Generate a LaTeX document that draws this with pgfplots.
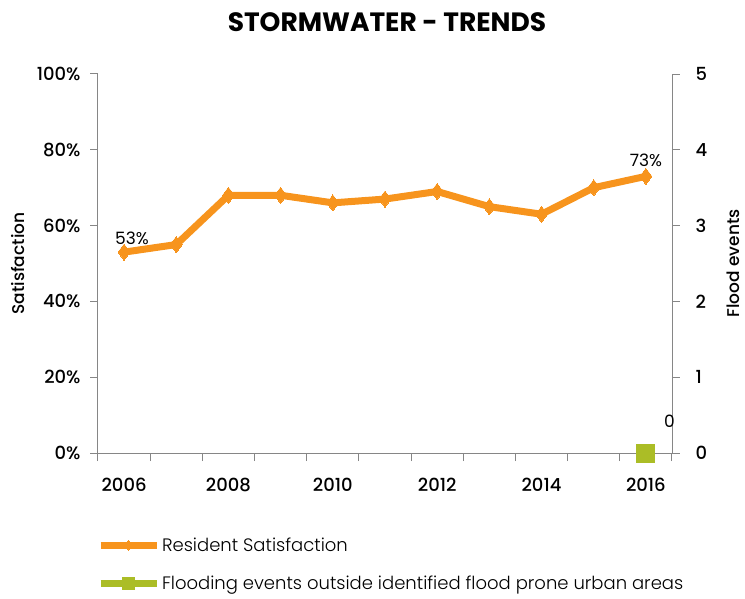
\documentclass[border=0pt]{standalone}
\usepackage{pgfplots}
\pgfplotsset{compat=1.18}
\usepackage{fontspec}
\setmainfont{Poppins}
\newfontfamily\pmed{Poppins}[UprightFont=* Medium]
\newfontfamily\plight{Poppins}[UprightFont=* Light]
\newfontfamily\pbold{Poppins}[UprightFont=* Bold]
\definecolor{orng}{HTML}{F7941D}
\definecolor{grn}{HTML}{ABBD26}
\definecolor{axgray}{HTML}{868686}
\pgfplotstableread{
year sat
2006 53
2007 55
2008 68
2009 68
2010 66
2011 67
2012 69
2013 65
2014 63
2015 70
2016 73
}\sat
\pgfplotstableread{
year flood
2016 0
}\flood
\begin{document}
\begin{tikzpicture}
\useasboundingbox (0pt,0pt) rectangle (745pt,598pt);
\node[font=\pbold\fontsize{26.5}{31}\selectfont] at (387pt,576pt) {STORMWATER - TRENDS};
\begin{axis}[
  at={(98pt,145pt)}, anchor=south west,
  scale only axis, width=574pt, height=379pt,
  xmin=2005.5, xmax=2016.5, ymin=0, ymax=100,
  axis x line*=bottom, axis y line*=left,
  axis line style={axgray, line width=1pt},
  every tick/.style={axgray, line width=1pt},
  xtick={2006,2008,...,2016},
  xticklabel style={/pgf/number format/1000 sep=},
  major x tick style={draw=none},
  minor xtick={2005.5,2006.5,...,2016.5},
  minor tick length=8pt,
  ytick={0,20,...,100},
  major tick length=8pt,
  tick align=outside,
  yticklabel={\pgfmathprintnumber{\tick}\%},
  /pgf/number format/assume math mode=true,
  tick label style={font=\pmed\fontsize{18}{21}\selectfont, black},
  xticklabel style={yshift=-14pt},
  yticklabel style={xshift=-6pt},
  ylabel={Satisfaction},
  ylabel style={font=\pmed\fontsize{17}{20}\selectfont, at={(axis description cs:-0.139,0.5)}, anchor=center},
  clip=false,
]
\addplot[orng, line width=7pt, mark=diamond*, mark size=8pt, mark options={fill=orng, line width=0pt}] table[x=year, y=sat] {\sat};
\node[font=\fontsize{17}{20}\selectfont, anchor=south] at (axis cs:2006.15,54) {53\%};
\node[font=\fontsize{17}{20}\selectfont, anchor=south] at (axis cs:2016,74.5) {73\%};
\end{axis}
\begin{axis}[
  at={(98pt,145pt)}, anchor=south west,
  scale only axis, width=574pt, height=379pt,
  xmin=2005.5, xmax=2016.5, ymin=0, ymax=5,
  axis x line=none, axis y line*=right,
  axis line style={axgray, line width=1pt},
  every tick/.style={axgray, line width=1pt},
  ytick={0,1,...,5},
  major tick length=8pt,
  tick align=outside,
  /pgf/number format/assume math mode=true,
  tick label style={font=\pmed\fontsize{18}{21}\selectfont, black},
  yticklabel style={xshift=12pt},
  ylabel={Flood events},
  ylabel style={font=\pmed\fontsize{17}{20}\selectfont, at={(axis description cs:1.106,0.5)}, anchor=center},
  clip=false,
  legend style={at={(-0.002,-0.212)}, anchor=north west, draw=none, fill=none,
    font=\plight\fontsize{18}{21}\selectfont, row sep=19pt, inner xsep=0pt,
    legend cell align=left, nodes={inner xsep=2pt}},
  legend image code/.code={\draw[#1, mark repeat=2, mark phase=2] plot coordinates {(0pt,0pt) (28pt,0pt) (56pt,0pt)};},
]
\addlegendimage{orng, line width=7pt, mark=diamond*, mark size=5pt, mark options={fill=orng, line width=0pt}}
\addlegendentry{Resident Satisfaction}
\addplot[grn, only marks, mark=square*, mark size=9pt, mark options={fill=grn, line width=0pt}, forget plot] table[x=year, y=flood] {\flood};
\addlegendimage{grn, line width=7pt, mark=square*, mark size=6pt, mark options={fill=grn, line width=0pt}}
\addlegendentry{Flooding events outside identified flood prone urban areas}
\node[font=\fontsize{17}{20}\selectfont] at (axis cs:2016.45,0.42) {0};
\end{axis}
\end{tikzpicture}
\end{document}
